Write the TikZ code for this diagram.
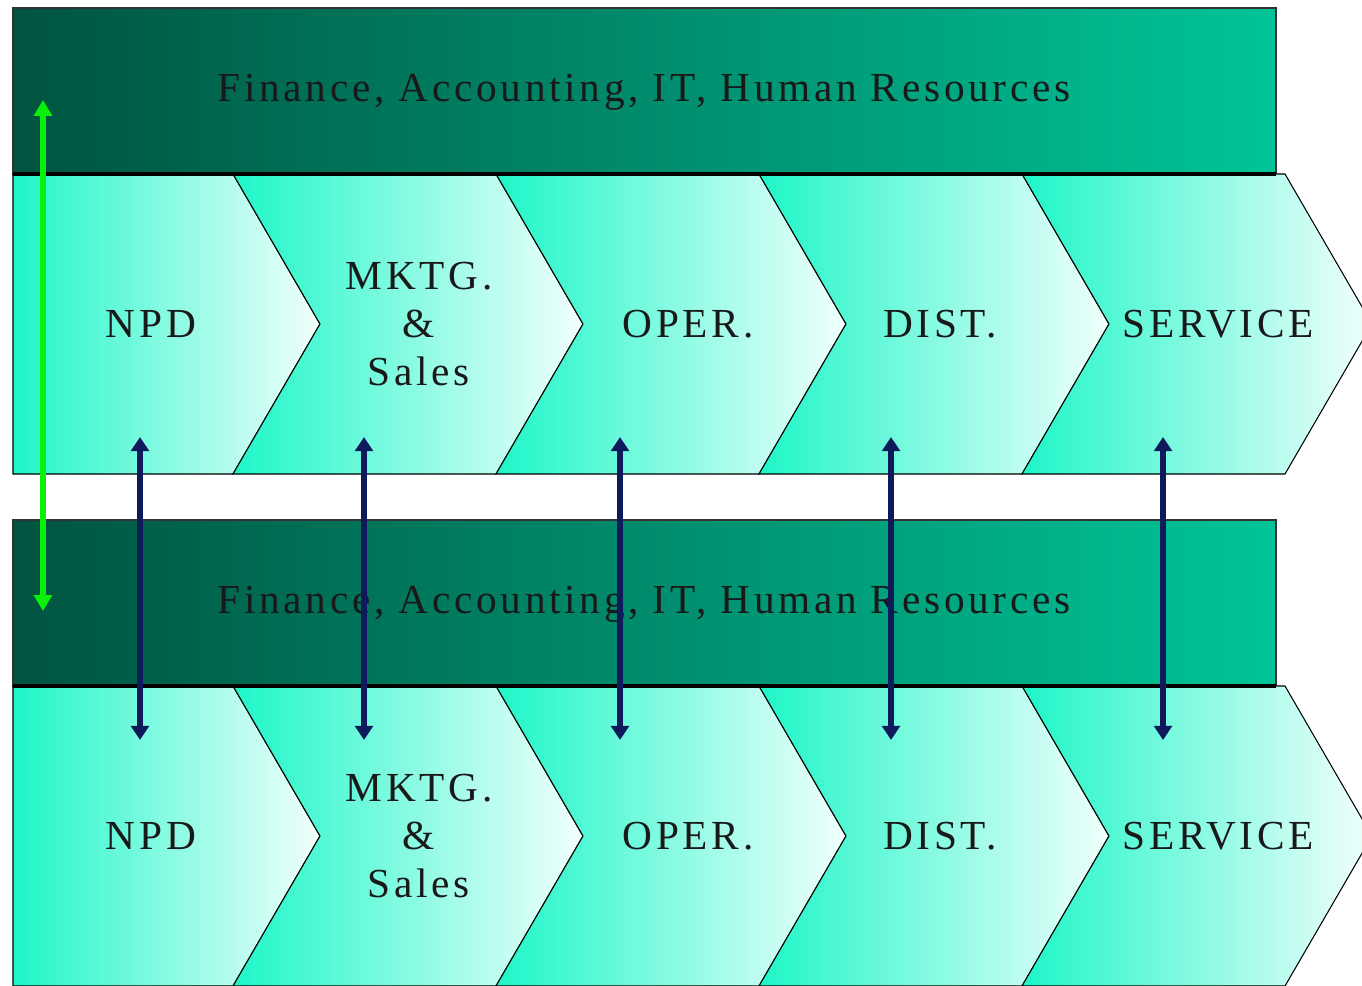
\documentclass[tikz,border=0pt]{standalone}
\usepackage{fontspec}
\setmainfont{Liberation Serif}
\newfontfamily\stagefont[LetterSpace=9]{Liberation Serif}
\usepackage{xcolor}
\usepackage{tikz}
\usetikzlibrary{arrows.meta,calc,positioning}

\definecolor{bandleft}{RGB}{0,84,64}
\definecolor{bandright}{RGB}{0,196,152}
\definecolor{chevcyan}{RGB}{30,246,200}
\definecolor{chevwhite}{RGB}{242,255,252}
\definecolor{linknavy}{RGB}{14,26,92}
\definecolor{linkgreen}{RGB}{10,240,10}

\begin{document}
\begin{tikzpicture}[x=0.02cm,y=-0.02cm,>=Latex,
    band/.style={left color=bandleft, right color=bandright, draw=black!80, line width=0.6pt},
    chevron/.style={left color=chevcyan, right color=chevwhite, draw=black, line width=0.6pt},
    stagetext/.style={font=\stagefont\fontsize{23.5}{27.5}\selectfont, align=center, text=black!90},
    navylink/.style={linknavy, line width=3.2pt, {Triangle[length=8pt,width=10pt]}-{Triangle[length=8pt,width=10pt]}},
    greenlink/.style={linkgreen, line width=3.2pt, {Triangle[length=9pt,width=10pt]}-{Triangle[length=9pt,width=10pt]}}]
  \clip (0,0) rectangle (1362,986);
  \fill[white] (0,0) rectangle (1362,986);
  % two identical panels: support band over the five stages
  \foreach \p/\t in {0/8, 1/520} {
    \shadedraw[band] (13,\t) rectangle (1276,\t+166);
    \node[stagetext] (band-\p) at (644,\t+84) {Finance, Accounting, IT, Human Resources};
    \foreach \l/\n/\r/\x/\txt [count=\k] in {
      13/0/233/151/NPD,
      233/87/496/419/{MKTG.\\\&\\Sales},
      496/87/759/688/OPER.,
      759/87/1022/940/DIST.,
      1022/87/1285/1218/SERVICE} {
      \shadedraw[chevron] (\l,\t+166) -- (\r,\t+166) -- (\r+87,\t+316) -- (\r,\t+466)
        -- (\l,\t+466) -- (\l+\n,\t+316) -- cycle;
      \node[stagetext] (stage-\p-\k) at (\x,\t+316) {\txt};
    }
    \draw[line width=1.8pt] (13,\t+166) -- (1276,\t+166);
  }
  % links between the panels
  \coordinate (hr-top) at (43,100);
  \coordinate (hr-bot) at (43,611);
  \draw[greenlink] (hr-top) -- (hr-bot);
  \foreach \x [count=\k] in {140,364,620,891,1163} {
    \coordinate (link-top-\k) at (\x,437);
    \coordinate (link-bot-\k) at (\x,740);
    \draw[navylink] (link-top-\k) -- (link-bot-\k);
  }
\end{tikzpicture}
\end{document}
